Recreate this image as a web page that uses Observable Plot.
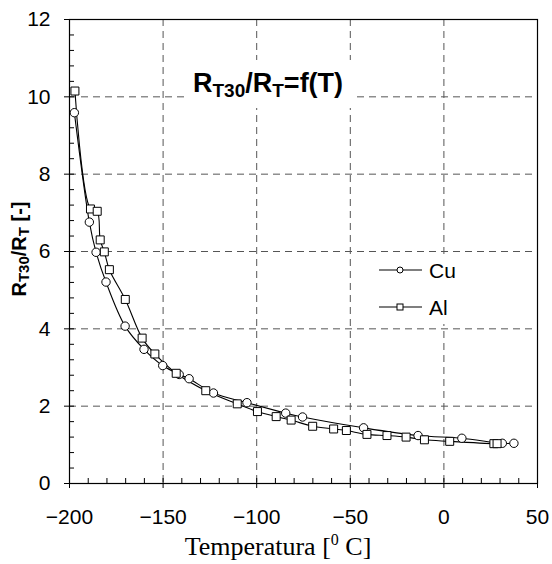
<!DOCTYPE html>
<html>
<head>
<meta charset="utf-8">
<script src="https://cdn.jsdelivr.net/npm/d3@7"></script>
<script src="https://cdn.jsdelivr.net/npm/@observablehq/plot@0.6"></script>
<style>
  html, body { margin: 0; padding: 0; background: #fff; }
  #chart { width: 552px; height: 564px; }
</style>
</head>
<body>
<div id="chart"></div>
<script>
// Temperature [°C] and resistance ratio R_T30/R_T
const cuT = [-197.4, -189.4, -185.8, -180.5, -170.3, -160.2, -150.2, -141.4, -136.1, -123.1, -105.2, -84.5, -75.5, -42.9, -13.8, 9.6, 31.2, 37.4];
const cuR = [9.59, 6.76, 5.98, 5.21, 4.07, 3.47, 3.05, 2.82, 2.71, 2.34, 2.09, 1.82, 1.72, 1.44, 1.24, 1.17, 1.04, 1.04];
const alT = [-197.1, -188.8, -185.2, -183.6, -181.4, -178.7, -170.2, -161.2, -154.4, -143.0, -127.2, -110.4, -99.6, -89.6, -81.6, -70.1, -58.9, -52.1, -41.1, -30.4, -20.2, -10.4, 3.1, 26.7, 28.4];
const alR = [10.15, 7.10, 7.04, 6.30, 5.99, 5.53, 4.76, 3.76, 3.35, 2.85, 2.40, 2.06, 1.86, 1.73, 1.64, 1.48, 1.41, 1.37, 1.27, 1.24, 1.20, 1.13, 1.09, 1.03, 1.03];
const seriesNames = ["Cu", "Al"];
const xTicks = [-200, -150, -100, -50, 0, 50];
const yTicks = [0, 2, 4, 6, 8, 10, 12];
const xMinor = d3.range(-200, 51, 10);
const yMinor = d3.range(0, 31).map(i => +(i * 0.4).toFixed(1));

const cu = cuT.map((t, i) => ({T: t, R: cuR[i]}));
const al = alT.map((t, i) => ({T: t, R: alR[i]}));

const SANS = "'Liberation Sans', Arial, sans-serif";
const SERIF = "'Liberation Serif', 'Times New Roman', serif";

const plot = Plot.plot({
  width: 552,
  height: 564,
  marginLeft: 69,
  marginRight: 15,
  marginTop: 19,
  marginBottom: 81,
  style: {fontFamily: SANS, fontSize: "21px", background: "white", color: "black"},
  x: {domain: [-200, 50]},
  y: {domain: [0, 12]},
  marks: [
    Plot.gridX({ticks: xTicks.slice(1, -1), stroke: "#555", strokeOpacity: 1, strokeDasharray: "7,5"}),
    Plot.gridY({ticks: yTicks.slice(1, -1), stroke: "#555", strokeOpacity: 1, strokeDasharray: "7,5"}),
    Plot.axisX({ticks: xMinor, tickSize: -5, tickFormat: () => "", label: null, stroke: "black"}),
    Plot.axisY({ticks: yMinor, tickSize: -5, tickFormat: () => "", label: null, stroke: "black"}),
    Plot.axisX({ticks: xTicks, tickSize: 5, tickPadding: 21, label: null, fontSize: 21, stroke: "black"}),
    Plot.axisY({ticks: yTicks, tickSize: 5, tickPadding: 14, label: null, fontSize: 21, stroke: "black"}),
    Plot.frame({stroke: "black", strokeWidth: 1.2}),
    Plot.line(cu, {x: "T", y: "R", curve: "catmull-rom", stroke: "black", strokeWidth: 1.1}),
    Plot.line(al, {x: "T", y: "R", curve: "catmull-rom", stroke: "black", strokeWidth: 1.1}),
    Plot.dot(cu, {x: "T", y: "R", r: 4.2, symbol: "circle", stroke: "black", fill: "white", strokeWidth: 1}),
    Plot.dot(al, {x: "T", y: "R", r: 4.5, symbol: "square", stroke: "black", fill: "white", strokeWidth: 1})
  ]
});
document.getElementById("chart").appendChild(plot);

// Annotations: title, y label, x label, legend
const svg = d3.select(plot);

// Title box (white, hides gridlines) and title R_T30/R_T=f(T)
svg.append("rect").attr("x", 186).attr("y", 60).attr("width", 166).attr("height", 48).attr("fill", "white");
const title = svg.append("text")
  .attr("x", 193).attr("y", 92).attr("text-anchor", "start")
  .attr("font-family", SANS).attr("font-weight", "bold").attr("font-size", 27).attr("fill", "black");
title.append("tspan").text("R");
title.append("tspan").attr("font-size", 19).attr("dy", 5).text("T30");
title.append("tspan").attr("dy", -5).text("/R");
title.append("tspan").attr("font-size", 19).attr("dy", 5).text("T");
title.append("tspan").attr("dy", -5).text("=f(T)");

// Y label
const yl = svg.append("text")
  .attr("transform", "translate(26,249) rotate(-90)")
  .attr("text-anchor", "middle")
  .attr("font-family", SANS).attr("font-weight", "bold").attr("font-size", 20).attr("fill", "black");
yl.append("tspan").text("R");
yl.append("tspan").attr("font-size", 15).attr("dy", 3).text("T30");
yl.append("tspan").attr("dy", -3).text("/R");
yl.append("tspan").attr("font-size", 15).attr("dy", 3).text("T");
yl.append("tspan").attr("dy", -3).text(" [-]");

// X label
const xl = svg.append("text")
  .attr("x", 278).attr("y", 555)
  .attr("text-anchor", "middle")
  .attr("font-family", SERIF).attr("font-size", 26).attr("fill", "black");
xl.append("tspan").text("Temperatura [");
xl.append("tspan").attr("font-size", 16).attr("dy", -10).text("0");
xl.append("tspan").attr("dy", 10).text(" C]");

// Legend (white box hides gridlines behind it)
const leg = svg.append("g").attr("font-family", SANS).attr("font-size", 21);
leg.append("rect").attr("x", 372).attr("y", 254).attr("width", 130).attr("height", 70).attr("fill", "white");
seriesNames.forEach((name, i) => {
  const y = 270 + i * 37;
  const g = leg.append("g");
  g.append("line").attr("x1", 379).attr("x2", 422).attr("y1", y).attr("y2", y)
    .attr("stroke", "black").attr("stroke-width", 1.1);
  if (name === "Cu") {
    g.append("circle").attr("cx", 400).attr("cy", y).attr("r", 3)
      .attr("fill", "white").attr("stroke", "black");
  } else {
    g.append("rect").attr("x", 397).attr("y", y - 3).attr("width", 6).attr("height", 6)
      .attr("fill", "white").attr("stroke", "black");
  }
  g.append("text").attr("x", 429).attr("y", y).attr("dy", "0.36em")
    .attr("text-anchor", "start").attr("fill", "black").text(name);
});
</script>
</body>
</html>
